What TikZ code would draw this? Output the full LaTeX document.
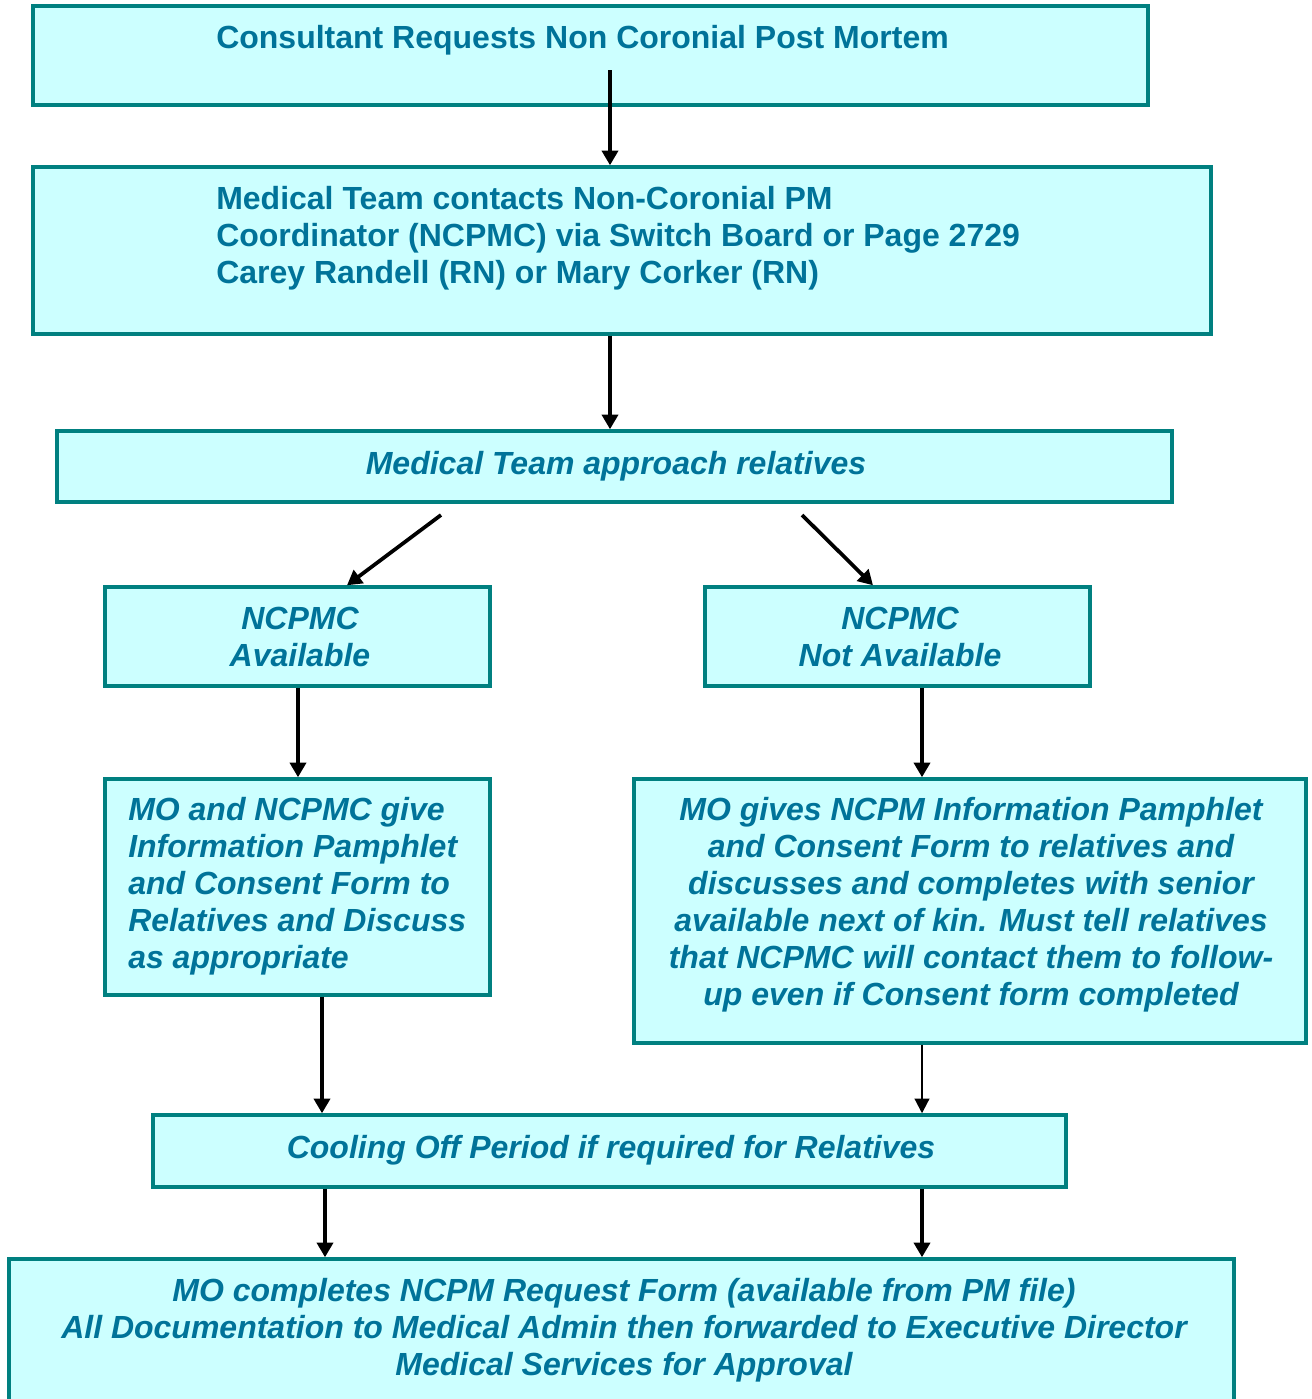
\documentclass[tikz,border=0pt]{standalone}
\usepackage{fontspec}
\setmainfont{Liberation Sans}
\usetikzlibrary{arrows.meta}
\definecolor{boxfill}{RGB}{204,255,255}
\definecolor{boxline}{RGB}{0,128,128}
\definecolor{boxtext}{RGB}{0,115,153}
\newcommand\mybox[5]{\node[boxst, minimum width={(#4-#2)*0.75pt}, minimum height={(#5-#3)*0.75pt}] (#1) at ({(#2+#4)/2},{(#3+#5)/2}) {};}
\tikzset{
  boxst/.style={draw=boxline, fill=boxfill, line width=2.6pt, inner sep=0pt, rectangle},
  txt/.style={text=boxtext, font=\fontsize{24pt}{27.75pt}\selectfont\bfseries, inner sep=0pt},
  itxt/.style={txt, font=\fontsize{24pt}{27.75pt}\selectfont\bfseries\itshape},
  arr/.style={line width=2.8pt, -{Triangle[length=11pt, width=12pt]}},
  thinarr/.style={line width=1.6pt, -{Triangle[length=11pt, width=11pt]}}
}
\begin{document}
\begin{tikzpicture}[x=0.75pt, y=-0.75pt]
\useasboundingbox (0,0) rectangle (1311,1399);
\clip (0,0) rectangle (1311,1399);
\mybox{b1}{33}{6}{1148}{105}
\mybox{b2}{33}{167}{1211}{334}
\mybox{b3}{57}{431}{1172}{502}
\mybox{b4}{105}{587}{490}{686}
\mybox{b5}{705}{587}{1090}{686}
\mybox{b6}{105}{779}{490}{995}
\mybox{b7}{634}{779}{1306}{1043}
\mybox{b8}{153}{1115}{1066}{1187}
\mybox{b9}{9}{1259}{1234}{1430}

\node[txt, anchor=base west] (t1) at (216,48) {Consultant Requests Non Coronial Post Mortem};
\node[txt, anchor=base west, align=left] (t2) at (216,283) {Medical Team contacts Non-Coronial PM\\Coordinator (NCPMC) via Switch Board or Page 2729\\Carey Randell (RN) or Mary Corker (RN)};
\node[itxt, anchor=base] (t3) at (616,474) {Medical Team approach relatives};
\node[itxt, anchor=base, align=center] (t4) at (300,666) {NCPMC\\Available};
\node[itxt, anchor=base, align=center] (t5) at (900,666) {NCPMC\\Not Available};
\node[itxt, anchor=base west, align=left] (t6) at (128,968) {MO and NCPMC give\\Information Pamphlet\\and Consent Form to\\Relatives and Discuss\\as appropriate};
\node[itxt, anchor=base, align=center] (t7) at (971,1005) {MO gives NCPM Information Pamphlet\\and Consent Form to relatives and\\discusses and completes with senior\\available next of kin. Must tell relatives\\that NCPMC will contact them to follow-\\up even if Consent form completed};
\node[itxt, anchor=base] (t8) at (611,1158) {Cooling Off Period if required for Relatives};
\node[itxt, anchor=base, align=center] (t9) at (624,1375) {MO completes NCPM Request Form (available from PM file)\\All Documentation to Medical Admin then forwarded to Executive Director\\Medical Services for Approval};

\coordinate (s1) at (610,70);
\coordinate (s3) at (441,515);
\coordinate (e3) at (347,587);
\coordinate (s4) at (802,515);
\coordinate (e4) at (873,587);
\coordinate (x610) at (610,0);
\coordinate (x298) at (298,0);
\coordinate (x922) at (922,0);
\coordinate (x322) at (322,0);
\coordinate (x325) at (325,0);

\draw[arr] (s1) -- (s1 |- b2.north);
\draw[arr] (x610 |- b2.south) -- (x610 |- b3.north);
\draw[arr] (s3) -- (e3 |- b4.north);
\draw[arr] (s4) -- (e4 |- b5.north);
\draw[arr] (x298 |- b4.south) -- (x298 |- b6.north);
\draw[arr] (x922 |- b5.south) -- (x922 |- b7.north);
\draw[arr] (x322 |- b6.south) -- (x322 |- b8.north);
\draw[thinarr] (x922 |- b7.south) -- (x922 |- b8.north);
\draw[arr] (x325 |- b8.south) -- (x325 |- b9.north);
\draw[arr] (x922 |- b8.south) -- (x922 |- b9.north);
\end{tikzpicture}
\end{document}
